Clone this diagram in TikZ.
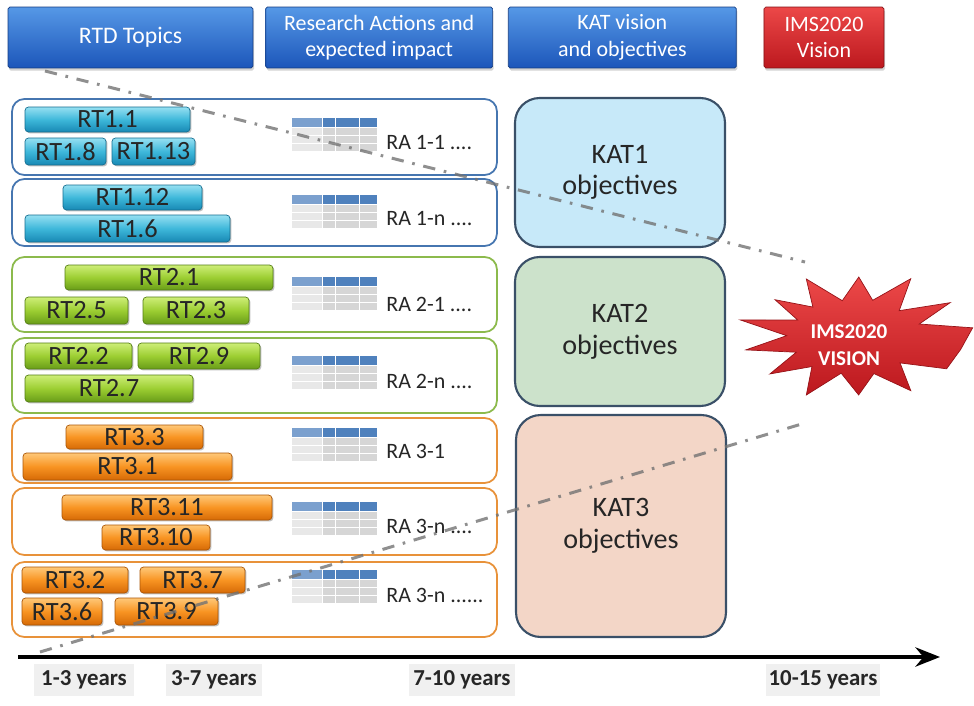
\documentclass[tikz,border=0pt]{standalone}
\usepackage{fontspec}
\setmainfont{Carlito}
\usepackage{xcolor}
\usetikzlibrary{positioning, arrows.meta, shadows}

\definecolor{hdrlight}{RGB}{86,152,230}
\definecolor{hdrdark}{RGB}{28,86,186}
\definecolor{imslight}{RGB}{236,72,72}
\definecolor{imsdark}{RGB}{188,24,30}
\definecolor{rtblight}{RGB}{150,224,242}
\definecolor{rtbmid}{RGB}{62,184,218}
\definecolor{rtbdark}{RGB}{24,136,180}
\definecolor{rtglight}{RGB}{206,238,120}
\definecolor{rtgmid}{RGB}{156,206,50}
\definecolor{rtgdark}{RGB}{104,156,24}
\definecolor{rtolight}{RGB}{255,200,120}
\definecolor{rtomid}{RGB}{248,148,34}
\definecolor{rtodark}{RGB}{214,106,6}
\definecolor{rowblue}{RGB}{70,118,176}
\definecolor{rowgreen}{RGB}{140,186,76}
\definecolor{roworange}{RGB}{232,146,58}
\definecolor{katone}{RGB}{199,233,249}
\definecolor{kattwo}{RGB}{204,226,203}
\definecolor{katthree}{RGB}{243,214,199}
\definecolor{katedge}{RGB}{58,80,104}
\definecolor{tabhead}{RGB}{79,129,189}
\definecolor{tabcell}{RGB}{214,214,214}
\definecolor{tabfirst}{RGB}{232,232,232}

% small table of a research action, top left corner at (#1,#2)
\newcommand{\ratable}[2]{%
  \begin{scope}[shift={(#1,#2)}]
    \fill[tabhead!75!white] (0,0) rectangle (30,9);
    \foreach \r in {10,18,26} \fill[tabfirst] (0,\r) rectangle (30,\r+7);
    \foreach \a/\b in {31/43,44/67,68/85} {
      \fill[tabhead] (\a,0) rectangle (\b,9);
      \foreach \r in {10,18,26} \fill[tabcell] (\a,\r) rectangle (\b,\r+7);
    }
  \end{scope}}

\tikzset{
  header/.style={rounded corners=1pt, draw=hdrdark!70!black, top color=hdrlight, bottom color=hdrdark,
    text=white, align=center, inner sep=0pt, minimum height=1.22cm,
    font=\fontsize{12.5}{15}\selectfont, drop shadow={opacity=0.35, shadow xshift=0.6pt, shadow yshift=-1.5pt}},
  topic/.style={rounded corners=2pt, inner sep=0pt, text=black!85, font=\fontsize{15}{15}\selectfont,
    drop shadow={opacity=0.5, shadow xshift=0.8pt, shadow yshift=-0.8pt}},
  bluetopic/.style={topic, draw=rtbdark!80!black, top color=rtblight, bottom color=rtbdark, middle color=rtbmid},
  greentopic/.style={topic, draw=rtgdark!80!black, top color=rtglight, bottom color=rtgdark, middle color=rtgmid},
  orangetopic/.style={topic, draw=rtodark!80!black, top color=rtolight, bottom color=rtodark, middle color=rtomid},
  rowbox/.style={draw, fill=white, rounded corners=7pt, line width=1pt, minimum width=9.7cm},
  ralabel/.style={anchor=west, inner sep=0pt, text=black!85, font=\fontsize{12.5}{13}\selectfont},
  katbox/.style={draw=katedge, line width=1.2pt, rounded corners=14pt, minimum width=4.2cm, align=center,
    text=black!85, font=\fontsize{16}{18}\selectfont},
  dashdot/.style={line width=1.7pt, draw=black!55, opacity=0.8, dash pattern=on 7pt off 5pt on 1.5pt off 5pt},
  yearlabel/.style={fill=black!6, inner sep=0pt, minimum height=0.64cm, text=black!85,
    font=\bfseries\fontsize{13}{13}\selectfont}
}

\begin{document}
\begin{tikzpicture}[x=0.02cm, y=-0.02cm]
        \useasboundingbox (0,0) rectangle (974,706);

        % Headers
        \node[header, minimum width=4.9cm, font=\fontsize{13.5}{15}\selectfont] (hdrrtd) at (130.5,37.5) {RTD Topics};
        \node[header, minimum width=4.54cm, right=0.24cm of hdrrtd] (hdrra) {Research Actions and\\expected impact};
        \node[header, minimum width=4.56cm, right=0.3cm of hdrra] (hdrkat) {KAT vision\\and objectives};
        \node[header, minimum width=2.4cm, right=0.54cm of hdrkat, draw=imsdark!70!black,
              top color=imslight, bottom color=imsdark] (hdrims) {IMS2020\\Vision};

        % Rows of research actions
        \node[rowbox, draw=rowblue, minimum height=1.52cm] (row11) at (254.5,137) {};
        \node[rowbox, draw=rowblue, minimum height=1.34cm] (row1n) at (254.5,212.5) {};
        \node[rowbox, draw=rowgreen, minimum height=1.5cm] (row21) at (254.5,294.5) {};
        \node[rowbox, draw=rowgreen, minimum height=1.5cm] (row2n) at (254.5,375.5) {};
        \node[rowbox, draw=roworange, minimum height=1.3cm] (row31) at (254.5,450.5) {};
        \node[rowbox, draw=roworange, minimum height=1.34cm] (row3n) at (254.5,521.5) {};
        \node[rowbox, draw=roworange, minimum height=1.5cm] (row3m) at (254.5,599.5) {};

        % RTD topics
        \node[bluetopic, minimum width=3.3cm, minimum height=0.5cm] (rt11) at (107.5,119.5) {RT1.1};
        \node[bluetopic, minimum width=1.62cm, minimum height=0.54cm] (rt18) at (65.5,151.5) {RT1.8};
        \node[bluetopic, minimum width=1.66cm, minimum height=0.54cm] (rt113) at (153.5,151.5) {RT1.13};
        \node[bluetopic, minimum width=2.78cm, minimum height=0.5cm] (rt112) at (132.5,197.5) {RT1.12};
        \node[bluetopic, minimum width=4.1cm, minimum height=0.54cm] (rt16) at (127.5,228.5) {RT1.6};

        \node[greentopic, minimum width=4.16cm, minimum height=0.5cm] (rt21) at (169,277.5) {RT2.1};
        \node[greentopic, minimum width=2.06cm, minimum height=0.54cm] (rt25) at (76.5,310.5) {RT2.5};
        \node[greentopic, minimum width=2.12cm, minimum height=0.54cm] (rt23) at (196,310.5) {RT2.3};
        \node[greentopic, minimum width=2.14cm, minimum height=0.52cm] (rt22) at (78.5,356) {RT2.2};
        \node[greentopic, minimum width=2.44cm, minimum height=0.52cm] (rt29) at (199,356) {RT2.9};
        \node[greentopic, minimum width=3.36cm, minimum height=0.54cm] (rt27) at (109,388.5) {RT2.7};

        \node[orangetopic, minimum width=2.74cm, minimum height=0.48cm] (rt33) at (134.5,437) {RT3.3};
        \node[orangetopic, minimum width=4.18cm, minimum height=0.54cm] (rt31) at (127.5,466.5) {RT3.1};
        \node[orangetopic, minimum width=4.2cm, minimum height=0.5cm] (rt311) at (167,507.5) {RT3.11};
        \node[orangetopic, minimum width=2.16cm, minimum height=0.5cm] (rt310) at (156,537.5) {RT3.10};
        \node[orangetopic, minimum width=2.12cm, minimum height=0.52cm] (rt32) at (75,580) {RT3.2};
        \node[orangetopic, minimum width=2.1cm, minimum height=0.52cm] (rt37) at (192.5,580) {RT3.7};
        \node[orangetopic, minimum width=1.6cm, minimum height=0.54cm] (rt36) at (62,611.5) {RT3.6};
        \node[orangetopic, minimum width=2.06cm, minimum height=0.54cm] (rt39) at (166.5,611.5) {RT3.9};

        % Research actions
        \foreach \t in {118,195,277,356,428,502,570} \ratable{292}{\t};
        \node[ralabel] (ra11) at (386,143) {RA 1-1 ....};
        \node[ralabel] (ra1n) at (386,219) {RA 1-n ....};
        \node[ralabel] (ra21) at (386,304) {RA 2-1 ....};
        \node[ralabel] (ra2n) at (386,381) {RA 2-n ....};
        \node[ralabel] (ra31) at (386,451) {RA 3-1};
        \node[ralabel] (ra3n) at (386,526) {RA 3-n ....};
        \node[ralabel] (ra3m) at (386,595) {RA 3-n ......};

        % KAT objectives
        \node[katbox, fill=katone, minimum height=2.98cm] (kat1) at (620,172.5) {KAT1\\objectives};
        \node[katbox, fill=kattwo, minimum height=2.98cm] (kat2) at (620,331.5) {KAT2\\objectives};
        \node[katbox, fill=katthree, minimum height=4.44cm] (kat3) at (621,526) {KAT3\\objectives};

        % Vision
        \path[draw=imsdark!80!black, top color=imslight, bottom color=imsdark]
          ({855+1.8*60*cos(348)},{337-60*sin(348)})
          \foreach \a/\r in {8/66, 20/38, 33/63, 47/36, 62/66, 75/38, 88/60, 101/37, 115/64, 128/38,
                             140/58, 152/36, 165/66, 178/38, 192/62, 205/36, 218/60, 231/38, 245/64,
                             258/37, 272/58, 286/38, 300/62, 314/36, 328/60}
          { -- ({855+1.8*\r*cos(\a)},{337-\r*sin(\a)}) } -- cycle;
        \node[align=center, text=white, font=\bfseries\fontsize{12}{15}\selectfont] (vision) at (849,345) {IMS2020\\VISION};

        % Dash-dot guide lines
        \coordinate (upstart) at (45,71);
        \coordinate (upend) at (805,262);
        \coordinate (lowstart) at (40,652);
        \coordinate (lowend) at (805,423);
        \draw[dashdot] (upstart) -- (upend);
        \draw[dashdot] (lowstart) -- (lowend);

        % Time axis
        \coordinate (tstart) at (18,657);
        \coordinate (tend) at (940,657);
        \draw[line width=1.8pt, -{Stealth[length=14pt, width=11pt]}] (tstart) -- (tend);
        \node[yearlabel, minimum width=2cm] (y13) at (84,680) {1-3 years};
        \node[yearlabel, minimum width=1.92cm] (y37) at (214,680) {3-7 years};
        \node[yearlabel, minimum width=2.14cm] (y710) at (462,680) {7-10 years};
        \node[yearlabel, minimum width=2.3cm] (y1015) at (823,680) {10-15 years};
    \end{tikzpicture}
\end{document}
